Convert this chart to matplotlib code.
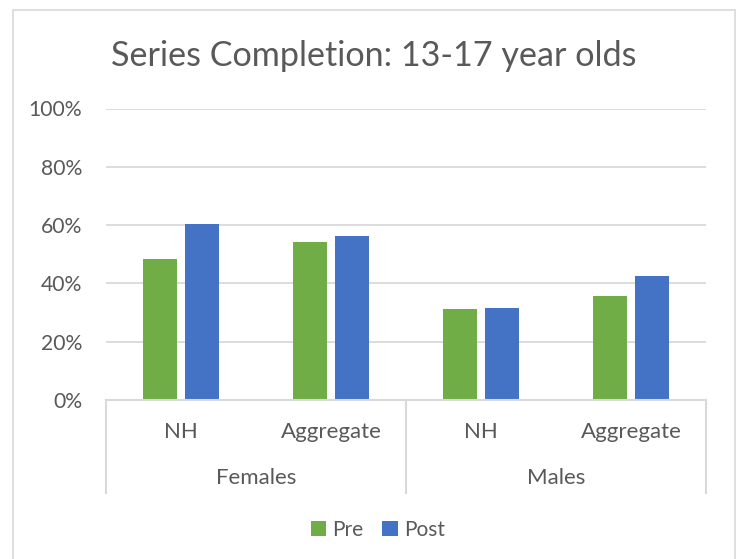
import matplotlib
matplotlib.use("Agg")
import matplotlib.pyplot as plt
from matplotlib.lines import Line2D
from matplotlib.patches import Rectangle
from matplotlib.ticker import PercentFormatter
import numpy as np

# values
groups = ["Females", "Males"]
subcats = ["NH", "Aggregate", "NH", "Aggregate"]
pre = [0.483, 0.541, 0.311, 0.358]
post = [0.605, 0.562, 0.317, 0.426]
yticks = [0, 0.2, 0.4, 0.6, 0.8, 1.0]

GREEN = "#70AD47"
BLUE = "#4472C4"
TXT = "#595959"
GRID = "#D9D9D9"

plt.rcParams['font.family'] = ['Lato', 'DejaVu Sans']

W, H = 739, 559
fig = plt.figure(figsize=(W / 100, H / 100), dpi=100)

def fx(px):
    return px / W

def fy(py):
    return 1 - py / H

# outer chart border
fig.patches.append(Rectangle((fx(13), fy(570)), fx(735) - fx(13), fy(10) - fy(570),
                             transform=fig.transFigure, fill=False, edgecolor=GRID, linewidth=1.2))

ax = fig.add_axes([fx(106), fy(400), fx(706) - fx(106), fy(108.5) - fy(400)])

x = np.arange(len(subcats))
bw = 0.223
ax.bar(x - 0.141, pre, bw, color=GREEN, label="Pre", zorder=3)
ax.bar(x + 0.141, post, bw, color=BLUE, label="Post", zorder=3)

ax.set_xlim(-0.5, len(subcats) - 0.5)
ax.set_ylim(0, 1.0)
ax.set_yticks(yticks)
ax.yaxis.set_major_formatter(PercentFormatter(1.0, decimals=0))
ax.tick_params(axis='y', length=0, pad=17, labelsize=15.2, labelcolor=TXT)
ax.tick_params(axis='x', length=0, labelbottom=False)
ax.grid(axis='y', color=GRID, linewidth=1.3, zorder=0)
for s in ax.spines.values():
    s.set_visible(False)

# multi-level category axis
bot = -0.319
ax.add_line(Line2D([0, 1], [0, 0], transform=ax.transAxes, color=GRID, linewidth=1.5, clip_on=False, zorder=4))
for xs in [0, 0.5, 1]:
    ax.add_line(Line2D([xs, xs], [0, bot], transform=ax.transAxes, color=GRID, linewidth=1.5, clip_on=False))
tr = ax.get_xaxis_transform()
for i, lab in enumerate(subcats):
    ax.text(x[i], -0.11, lab, transform=tr, ha='center', va='center', fontsize=16, color=TXT)
for j, g in enumerate(groups):
    ax.text(2 * j + 0.5, -0.266, g, transform=tr, ha='center', va='center', fontsize=16, color=TXT)

fig.text(fx(373.5), fy(56), "Series Completion: 13-17 year olds", ha='center', va='center',
         fontsize=24.6, color=TXT)

handles, labels = ax.get_legend_handles_labels()
fig.legend(handles, labels, loc='center', bbox_to_anchor=(fx(378), fy(530)), ncol=2, frameon=False,
           fontsize=15, labelcolor=TXT, handlelength=0.75, handleheight=0.75, handletextpad=0.3,
           columnspacing=0.9)

fig.savefig("out.png", dpi=100)
